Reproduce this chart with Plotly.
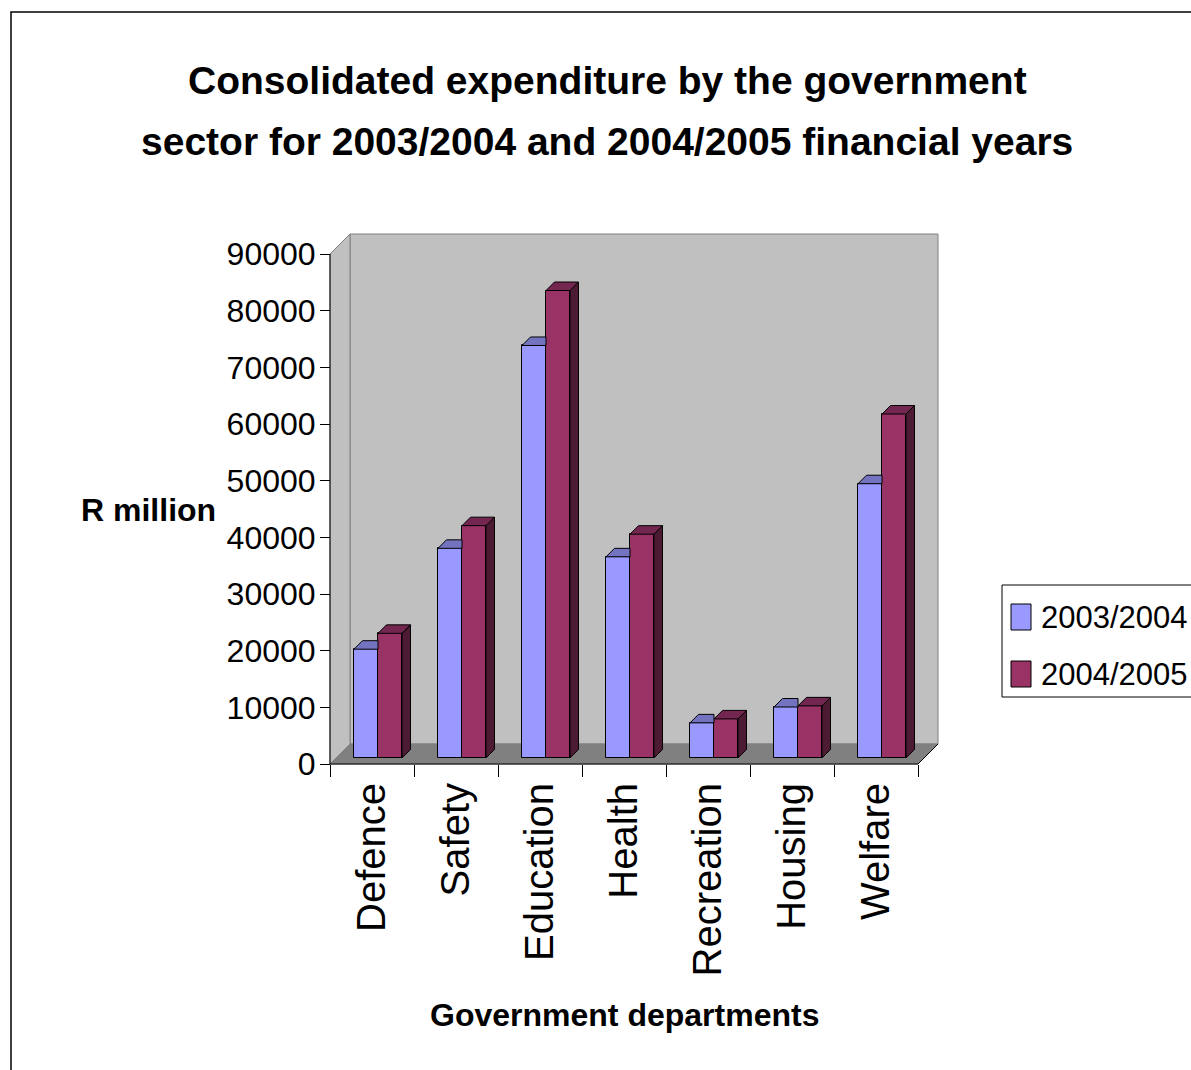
import plotly.graph_objects as go

# ---------------- data ----------------
categories = ["Defence", "Safety", "Education", "Health", "Recreation", "Housing", "Welfare"]
series_names = ["2003/2004", "2004/2005"]
values_2003_2004 = [19200, 37000, 72800, 35500, 6200, 9000, 48400]
values_2004_2005 = [22000, 41000, 82500, 39500, 6900, 9200, 60700]
y_tick_values = [0, 10000, 20000, 30000, 40000, 50000, 60000, 70000, 80000, 90000]
y_tick_labels = [str(v) for v in y_tick_values]

title_lines = ["Consolidated expenditure by the government",
               "sector for 2003/2004 and 2004/2005 financial years"]
y_title = "R million"
x_title = "Government departments"

# ---------------- styles ----------------
BLUE_FRONT, BLUE_TOP = "#9999FF", "#7373C0"
RED_FRONT, RED_TOP, RED_SIDE = "#993366", "#73264F", "#4D1A33"
WALL, FLOOR, EDGE = "#C0C0C0", "#808080", "#808080"
NARROW = "Liberation Sans Narrow, Arial Narrow, Liberation Sans, Arial, sans-serif"
REGULAR = "Liberation Sans, Arial, sans-serif"

W, H = 1191, 1070
# front-left-bottom corner of the 3D box (pixels)
OX, OY = 330, 764
PX_PER_CAT = 84.0
PX_PER_UNIT = 510.0 / 90000.0
# plot area in pixels (small padding so edge lines are not clipped)
PL, PR, PT, PB = 326, 942, 230, 768
DEPTH = 20.0          # wall/floor depth in px
BAR_FRONT = 6.0       # depth at which bars start (px)
BAR_DEPTH = 8.5       # bar depth (px)
BAR_W = 24.0          # bar width (px)


def ux(px):
    return px / PX_PER_CAT


def uy(px):
    return px / PX_PER_UNIT


x_range = [-0.5 - ux(OX - PL), -0.5 + ux(PR - OX)]
y_range = [-uy(PB - OY), uy(OY - PT)]


def paper_x(px):
    return (px - PL) / (PR - PL)


def paper_y(py):
    return (PB - py) / (PB - PT)


n = len(categories)
xs = list(range(n))
base = uy(BAR_FRONT)
shift = ux(BAR_FRONT)
bw = ux(BAR_W)
ddx, ddy = ux(BAR_DEPTH), uy(BAR_DEPTH)

fig = go.Figure()

# front faces
fig.add_trace(go.Bar(x=[i + shift - bw / 2 for i in xs], y=values_2003_2004, base=base,
                     width=bw, name=series_names[0], marker=dict(color=BLUE_FRONT, line=dict(color="black", width=1)),
                     showlegend=False, hoverinfo="skip"))
fig.add_trace(go.Bar(x=[i + shift + bw / 2 for i in xs], y=values_2004_2005, base=base,
                     width=bw, name=series_names[1], marker=dict(color=RED_FRONT, line=dict(color="black", width=1)),
                     showlegend=False, hoverinfo="skip"))


def poly_trace(px_list, py_list, color):
    return go.Scatter(x=px_list, y=py_list, mode="lines", fill="toself", fillcolor=color,
                      line=dict(color="black", width=1), hoverinfo="skip", showlegend=False)


# blue tops (clipped at the red bar's front face)
bx, by = [], []
for i, v in zip(xs, values_2003_2004):
    xl, xr, t = i + shift - bw, i + shift, v + base
    bx += [xl, xr, xr, xl + ddx, xl, None]
    by += [t, t, t + ddy, t + ddy, t, None]
fig.add_trace(poly_trace(bx, by, BLUE_TOP))

# red tops and sides
tx, ty, sx, sy = [], [], [], []
for i, v in zip(xs, values_2004_2005):
    xl, xr, t = i + shift, i + shift + bw, v + base
    tx += [xl, xr, xr + ddx, xl + ddx, xl, None]
    ty += [t, t, t + ddy, t + ddy, t, None]
    sx += [xr, xr, xr + ddx, xr + ddx, xr, None]
    sy += [base, t, t + ddy, base + ddy, base, None]
fig.add_trace(poly_trace(sx, sy, RED_SIDE))
fig.add_trace(poly_trace(tx, ty, RED_TOP))

# ---------------- 3D frame ----------------
x_front_l, x_front_r = -0.5, n - 0.5
dX, dY = ux(DEPTH), uy(DEPTH)
y_top = y_tick_values[-1]
shapes = [
    # back wall
    dict(type="rect", xref="x", yref="y", x0=x_front_l + dX, x1=x_front_r + dX, y0=dY, y1=y_top + dY,
         fillcolor=WALL, line=dict(color=EDGE, width=1), layer="below"),
    # side wall
    dict(type="path", xref="x", yref="y", layer="below", fillcolor=WALL, line=dict(color=EDGE, width=1),
         path=f"M{x_front_l},0 L{x_front_l},{y_top} L{x_front_l + dX},{y_top + dY} L{x_front_l + dX},{dY} Z"),
    # floor
    dict(type="path", xref="x", yref="y", layer="below", fillcolor=FLOOR, line=dict(color=EDGE, width=1),
         path=f"M{x_front_l},0 L{x_front_r},0 L{x_front_r + dX},{dY} L{x_front_l + dX},{dY} Z"),
    # front edges in black
    dict(type="line", xref="x", yref="y", x0=x_front_l, x1=x_front_l, y0=0, y1=y_top,
         line=dict(color="black", width=1)),
    dict(type="line", xref="x", yref="y", x0=x_front_l, x1=x_front_r, y0=0, y1=0,
         line=dict(color="black", width=1)),
    dict(type="line", xref="x", yref="y", x0=x_front_r, x1=x_front_r + dX, y0=0, y1=dY,
         line=dict(color="black", width=1)),
    # outer chart border
    dict(type="rect", xref="paper", yref="paper", x0=paper_x(11), x1=paper_x(W + 20),
         y0=paper_y(H + 20), y1=paper_y(12), line=dict(color="black", width=1.5), fillcolor="rgba(0,0,0,0)"),
    # legend box
    dict(type="rect", xref="paper", yref="paper", x0=paper_x(1002), x1=paper_x(W + 40),
         y0=paper_y(697), y1=paper_y(585), line=dict(color="black", width=1), fillcolor="white"),
]

annotations = []
# legend entries
legend_rows = [(series_names[0], BLUE_FRONT, 617), (series_names[1], RED_FRONT, 674)]
for name, col, cy in legend_rows:
    shapes.append(dict(type="rect", xref="paper", yref="paper", x0=paper_x(1011), x1=paper_x(1031),
                       y0=paper_y(cy + 13), y1=paper_y(cy - 13), fillcolor=col,
                       line=dict(color="black", width=1)))
    annotations.append(dict(text=name, xref="paper", yref="paper", x=paper_x(1039), y=paper_y(cy),
                            xanchor="left", yanchor="middle", showarrow=False,
                            font=dict(family=NARROW, size=31, color="black")))

# titles
annotations.append(dict(text=f"<b>{title_lines[0]}</b>", xref="paper", yref="paper", x=paper_x(607), y=paper_y(80),
                        xanchor="center", yanchor="middle", showarrow=False,
                        font=dict(family=NARROW, size=39, color="black")))
annotations.append(dict(text=f"<b>{title_lines[1]}</b>", xref="paper", yref="paper", x=paper_x(607), y=paper_y(141),
                        xanchor="center", yanchor="middle", showarrow=False,
                        font=dict(family=NARROW, size=39, color="black")))
annotations.append(dict(text=f"<b>{y_title}</b>", xref="paper", yref="paper", x=paper_x(148), y=paper_y(510),
                        xanchor="center", yanchor="middle", showarrow=False,
                        font=dict(family=NARROW, size=32, color="black")))
annotations.append(dict(text=f"<b>{x_title}</b>", xref="paper", yref="paper", x=paper_x(624), y=paper_y(1015),
                        xanchor="center", yanchor="middle", showarrow=False,
                        font=dict(family=NARROW, size=32, color="black")))

fig.update_layout(
    width=W, height=H,
    margin=dict(l=PL, r=W - PR, t=PT, b=H - PB, pad=0),
    paper_bgcolor="white", plot_bgcolor="white",
    barmode="overlay", bargap=0,
    shapes=shapes, annotations=annotations,
    showlegend=False,
    xaxis=dict(range=x_range, anchor="free", position=paper_y(OY),
               tickmode="array", tickvals=xs, ticktext=categories, tickangle=-90,
               ticks="", showgrid=False, zeroline=False, showline=False,
               ticklabelstandoff=10,
               tickfont=dict(family=REGULAR, size=40, color="black"),
               minor=dict(tickmode="array", tickvals=[i - 0.5 for i in range(n + 1)], ticks="outside",
                          ticklen=12, tickcolor="black", tickwidth=1, showgrid=False),
               fixedrange=True),
    yaxis=dict(range=y_range, anchor="free", position=paper_x(OX),
               tickmode="array", tickvals=y_tick_values, ticktext=y_tick_labels,
               ticks="outside", ticklen=10, tickcolor="black", tickwidth=1,
               showgrid=False, zeroline=False, showline=False, ticklabelstandoff=-2,
               tickfont=dict(family=NARROW, size=32, color="black"),
               fixedrange=True),
)

fig.write_html("out.html")
